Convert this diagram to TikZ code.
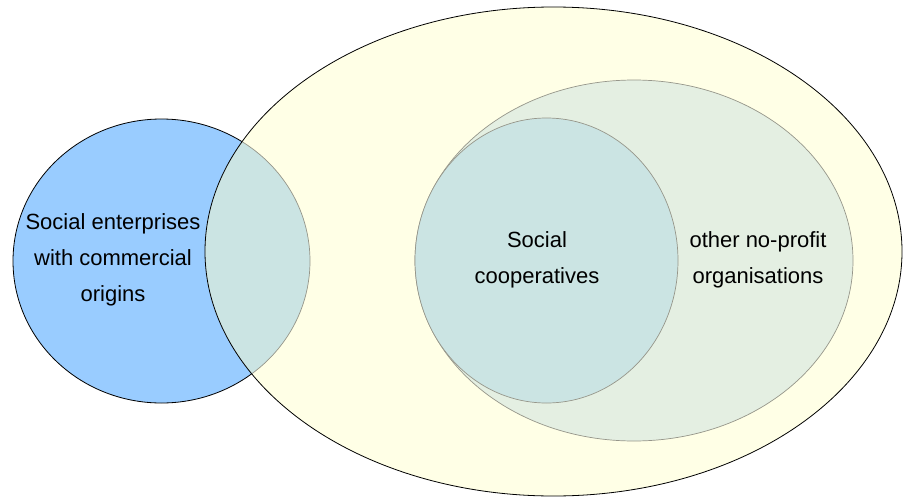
\documentclass[tikz,border=0pt]{standalone}
\usepackage{fontspec}
\setmainfont{Liberation Sans}
\usepackage{tikz}
\usetikzlibrary{positioning}

\definecolor{commblue}{HTML}{99CCFF}
\definecolor{outeryellow}{HTML}{FFFFE6}
\definecolor{lensteal}{HTML}{CBE4E3}
\definecolor{innergreen}{HTML}{E4EFE2}
\definecolor{rimgray}{HTML}{96968A}

\tikzset{
  label text/.style={align=center, text=black, font=\fontsize{22}{36}\selectfont},
  dark rim/.style={draw=black, line width=0.8pt},
  soft rim/.style={draw=rimgray, line width=0.7pt}
}

\begin{document}
\begin{tikzpicture}[x=1pt,y=-1pt]
   \useasboundingbox (0,0) rectangle (903,498);

   % commercial origins and the big set
   \path[fill=commblue, dark rim] (161.5,261) ellipse [x radius=148.5pt, y radius=142pt];
   \path[fill=outeryellow] (553.5,251.5) ellipse [x radius=348.5pt, y radius=244.5pt];
   \begin{scope}
     \clip (161.5,261) ellipse [x radius=148.5pt, y radius=142pt];
     \path[fill=lensteal] (553.5,251.5) ellipse [x radius=348.5pt, y radius=244.5pt];
   \end{scope}
   \begin{scope}
     \clip (553.5,251.5) ellipse [x radius=348.5pt, y radius=244.5pt];
     \path[soft rim] (161.5,261) ellipse [x radius=148.5pt, y radius=142pt];
   \end{scope}
   \path[dark rim] (553.5,251.5) ellipse [x radius=348.5pt, y radius=244.5pt];

   % no-profit sets
   \path[fill=innergreen, soft rim] (634,260.5) ellipse [x radius=219pt, y radius=180.5pt];
   \path[fill=lensteal, soft rim] (546.5,260.5) ellipse [x radius=131.5pt, y radius=142.5pt];

   \node[label text] (comm) at (113,260) {Social enterprises\\with commercial\\origins};
   \node[label text] (coop) at (537,259.5) {Social\\cooperatives};
   \node[label text] (other) at (758,259.5) {other no-profit\\organisations};
\end{tikzpicture}
\end{document}
